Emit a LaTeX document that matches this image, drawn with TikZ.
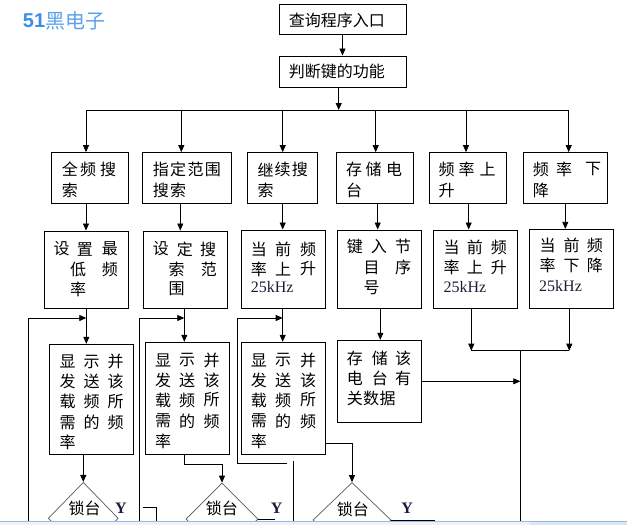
\documentclass[tikz,border=0pt]{standalone}
\usepackage{fontspec}
\usetikzlibrary{arrows.meta,shapes.geometric}
\newfontfamily\cjk{Noto Sans CJK SC}
\newfontfamily\tnr{Liberation Serif}
\newfontfamily\arl{Liberation Sans}
\definecolor{logoA}{HTML}{3D8EE8}
\definecolor{logoB}{HTML}{5AA2EC}
\definecolor{inkc}{HTML}{1C1C3C}
\definecolor{dgray}{HTML}{5A5A5A}
\definecolor{barline}{HTML}{9DB8DA}
\definecolor{barfill}{HTML}{EEF3F9}
\definecolor{barfillB}{HTML}{DCE7F4}
\newcommand\bx[5]{\node[box,minimum width=#4pt,minimum height=#5pt] (#1) at (#2,#3) {};}
\newcommand\tline[3]{\foreach \xx/\cc [count=\ii] in {#3}{\node[tx] (#1-\ii) at (\xx,#2) {\cc};}}
\begin{document}
\begin{tikzpicture}[x=1pt,y=-1pt,
  box/.style={draw,line width=1pt,inner sep=0pt},
  dia/.style={draw=dgray,line width=0.7pt,diamond,inner sep=0pt},
  tx/.style={anchor=west,inner sep=0pt,font=\cjk\fontsize{16}{16}\selectfont},
  khz/.style={anchor=west,inner sep=0pt,text=inkc,font=\tnr\fontsize{16}{16}\selectfont},
  ylab/.style={inner sep=0pt,text=inkc,font=\tnr\bfseries\fontsize{16}{16}\selectfont},
  ln/.style={line width=0.8pt},
  arr/.style={line width=0.8pt,-{Triangle[length=7pt,width=6pt]}}]
\useasboundingbox (0,0) rectangle (627,525);
\fill[white] (0,0) rectangle (627,525);

% logo
\node[anchor=west,inner sep=0pt,text=logoA,font=\arl\bfseries\fontsize{20}{20}\selectfont] (logo1) at (22.7,20.5) {51};
\node[anchor=west,inner sep=0pt,text=logoB,font=\cjk\fontsize{20}{20}\selectfont] (logo2) at (logo1.east) {黑电子};

% boxes
\bx{n1}{342.5}{19.2}{127}{29.7}
\bx{n2}{342.5}{71.7}{127}{31.3}
\bx{A1}{89.7}{178.3}{77.3}{51.3}
\bx{B1}{187}{178.3}{88.6}{51.3}
\bx{C1}{282.2}{178.3}{69.7}{51.3}
\bx{D1}{375}{178.3}{76.6}{51.3}
\bx{E1}{467.8}{178.3}{77}{51.3}
\bx{F1}{565.3}{178.3}{84}{51.3}
\bx{A2}{86.3}{269.7}{84}{77.3}
\bx{B2}{185.3}{269.7}{84}{77.3}
\bx{C2}{283.3}{269}{84}{78}
\bx{D2}{379.3}{269}{84}{78}
\bx{E2}{475.3}{269}{84}{78}
\bx{F2}{571.3}{268.7}{84}{78.7}
\bx{A3}{91.5}{399.3}{84.4}{110}
\bx{B3}{187.3}{398.3}{84}{112}
\bx{C3}{283.3}{398.3}{84}{112}
\bx{D3}{379.3}{381.3}{84}{82}

% diamonds
\node[dia,minimum width=70pt,minimum height=72pt] (dA) at (83.3,518.3) {};
\node[dia,minimum width=72pt,minimum height=72pt] (dB) at (222,519) {};
\node[dia,minimum width=78pt,minimum height=75pt] (dC) at (352,520) {};

% texts
\node[tx] (t1) at (288.7,20.3) {查询程序入口};
\node[tx] (t2) at (288.7,71.7) {判断键的功能};

\tline{a1}{169.5}{61.7/全,80/频,100/搜}
\tline{a1b}{190.5}{61.7/索}
\tline{b1}{169.5}{152.7/指,170/定,187.3/范,204.6/围}
\tline{b1b}{190.5}{152.7/搜,170/索}
\tline{c1}{169.5}{257.3/继,274.5/续,291.7/搜}
\tline{c1b}{190.5}{257.3/索}
\tline{d1}{169.5}{346/存,365.5/储,386/电}
\tline{d1b}{190.5}{346/台}
\tline{e1}{169.5}{438.3/频,458.3/率,479.3/上}
\tline{e1b}{190.5}{438.3/升}
\tline{f1}{169.5}{532.7/频,556/率,585/下}
\tline{f1b}{190.5}{532.7/降}

\tline{a2}{249}{53.3/设,76.7/置,101.7/最}
\tline{a2b}{269}{70/低,101.7/频}
\tline{a2c}{289}{70/率}
\tline{b2}{249}{152.7/设,176.7/定,200/搜}
\tline{b2b}{269}{168.3/索,200.7/范}
\tline{b2c}{289}{168.3/围}
\tline{c2}{249}{250.7/当,275/前,300/频}
\tline{c2b}{269}{250.7/率,275/上,300/升}
\node[khz] (c2k) at (250.7,287.5) {25kHz};
\tline{d2}{246.5}{346.7/键,370.7/入,395/节}
\tline{d2b}{267.5}{363.3/目,395/序}
\tline{d2c}{287.5}{363.3/号}
\tline{e2}{247.5}{443.3/当,466.7/前,490.7/频}
\tline{e2b}{267.5}{443.3/率,466.7/上,490.7/升}
\node[khz] (e2k) at (443.3,287.5) {25kHz};
\tline{f2}{245}{539.3/当,563.3/前,586.7/频}
\tline{f2b}{265.8}{539.3/率,563.3/下,586.7/降}
\node[khz] (f2k) at (539,285.8) {25kHz};

\tline{a3}{361.7}{59.3/显,83.3/示,107.3/并}
\tline{a3b}{381.7}{59.3/发,83.3/送,107.3/该}
\tline{a3c}{401.7}{59.3/载,83.3/频,107.3/所}
\tline{a3d}{422.5}{59.3/需,83.3/的,107.3/频}
\tline{a3e}{442}{59.3/率}
\tline{b3}{360}{155/显,179/示,203.3/并}
\tline{b3b}{380}{155/发,179/送,203.3/该}
\tline{b3c}{400}{155/载,179/频,203.3/所}
\tline{b3d}{421}{155/需,179/的,203.3/频}
\tline{b3e}{441}{155/率}
\tline{c3}{360}{250.7/显,275/示,300/并}
\tline{c3b}{380}{250.7/发,275/送,300/该}
\tline{c3c}{400}{250.7/载,275/频,300/所}
\tline{c3d}{421}{250.7/需,275/的,300/频}
\tline{c3e}{441}{250.7/率}
\tline{d3}{358.3}{346.7/存,371.7/储,395/该}
\tline{d3b}{378.3}{346.7/电,371.7/台,395/有}
\tline{d3c}{398.3}{346.7/关,363/数,379.3/据}

\node[tx] (lA) at (68.3,508.3) {锁台};
\node[tx] (lB) at (205.7,508.3) {锁台};
\node[tx] (lC) at (336.7,509.3) {锁台};
\node[ylab] (yA) at (120.8,508.3) {Y};
\node[ylab] (yB) at (276.7,508.3) {Y};
\node[ylab] (yC) at (407.2,508.3) {Y};

% coordinates
\coordinate (bT) at (338.7,110);
\coordinate (bA) at (86,110);
\coordinate (bB) at (181.3,110);
\coordinate (bC) at (282.7,110);
\coordinate (bD) at (375.7,110);
\coordinate (bE) at (466,110);
\coordinate (bF) at (568.7,110);
\coordinate (rA) at (86,0);
\coordinate (rB) at (180.3,0);
\coordinate (rC) at (282.7,0);
\coordinate (rD) at (377.7,0);
\coordinate (rE) at (468.7,0);
\coordinate (rF) at (565.3,0);
\coordinate (sA) at (86.3,318);
\coordinate (sB) at (184.3,318);
\coordinate (sC) at (282.7,318);
\coordinate (sD) at (380.3,0);
\coordinate (LA) at (28,318);
\coordinate (LAb) at (28,525);
\coordinate (LB) at (139.3,318);
\coordinate (LBb) at (139.3,525);
\coordinate (LC) at (237.3,318);
\coordinate (LCc) at (237.3,463.3);
\coordinate (LCs) at (287.3,463.3);
\coordinate (vC) at (293.3,461);
\coordinate (vCb) at (293.3,525);
\coordinate (cC) at (325.3,443.3);
\coordinate (jE) at (471.3,350.7);
\coordinate (jF) at (569.3,350.7);
\coordinate (jM) at (520.3,350.7);
\coordinate (jMb) at (520.3,525);
\coordinate (yAs) at (142.7,507.7);
\coordinate (yAc) at (156.3,507.7);
\coordinate (yAb) at (156.3,525);

% connectors
\draw[arr] (n1) -- (n2);
\draw[arr] (bT |- n2.south) -- (bT);
\draw[ln] (bA) -- (bF);
\foreach \b/\n in {bA/A1,bB/B1,bC/C1,bD/D1,bE/E1,bF/F1}
  \draw[arr] (\b) -- (\b |- \n.north);
\draw[arr] (rA |- A1.south) -- (rA |- A2.north);
\draw[arr] (rB |- B1.south) -- (rB |- B2.north);
\draw[arr] (rC |- C1.south) -- (rC |- C2.north);
\draw[arr] (rD |- D1.south) -- (rD |- D2.north);
\draw[arr] (rE |- E1.south) -- (rE |- E2.north);
\draw[arr] (rF |- F1.south) -- (rF |- F2.north);
\draw[arr] (sA |- A2.south) -- (sA |- A3.north);
\draw[arr] (sB |- B2.south) -- (sB |- B3.north);
\draw[arr] (sC |- C2.south) -- (sC |- C3.north);
\draw[arr] (sD |- D2.south) -- (sD |- D3.north);
\draw[arr] (LAb) -- (LA) -- (sA);
\draw[arr] (LBb) -- (LB) -- (sB);
\draw[arr] (LCs) -- (LCc) -- (LC) -- (sC);
\draw[ln] (vC) -- (vCb);
\draw[arr] (dA.north |- A3.south) -- (dA.north);
\draw[arr] (sB |- B3.south) -- ++(0,10) -| (dB.north);
\draw[arr] (C3.east |- cC) -| (dC.north);
\draw[arr] (jE |- E2.south) -- (jE);
\draw[arr] (jF |- F2.south) -- (jF);
\draw[ln] (jE) -- (jF);
\draw[ln] (jM) -- (jMb);
\draw[arr] (D3.east) -- (D3.east -| jM);
\draw[ln] (yAs) -- (yAc) -- (yAb);
\draw[ln] (dB.east) -- ++(17,0);
\draw[ln] (dC.east) -- ++(44,0);

% bottom bar
\fill[barfill] (0,520.5) rectangle (627,525);
\fill[barfillB] (529.5,521) rectangle (627,525);
\draw[barline,line width=1pt] (0,521) -- (627,521);
\end{tikzpicture}
\end{document}
